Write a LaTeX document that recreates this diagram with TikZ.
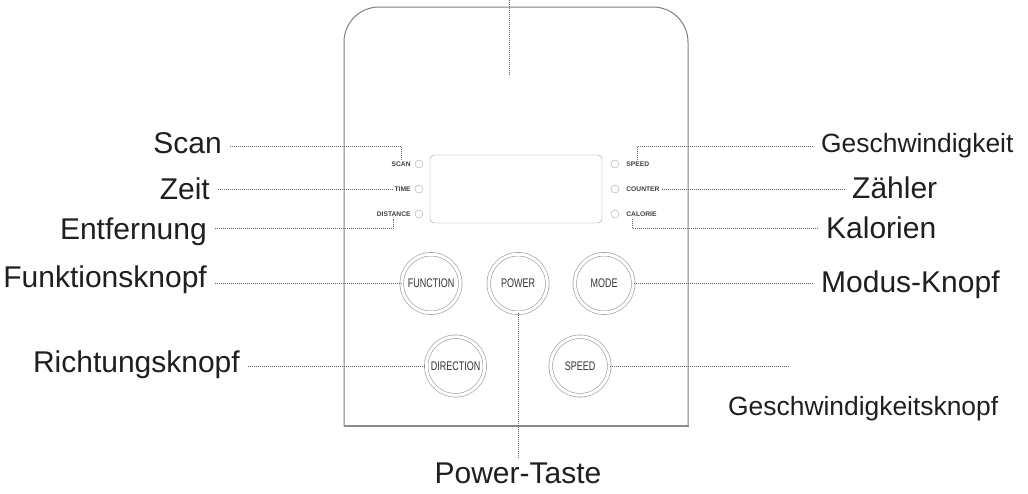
\documentclass[tikz,border=0pt]{standalone}
\usepackage{fontspec}
\setmainfont{Liberation Sans}
\newfontfamily\narrowfont[FakeStretch=0.72]{Liberation Sans}
\usetikzlibrary{positioning}

\begin{document}
\begin{tikzpicture}[x=1pt, y=-1pt,
  lbl/.style={font=\fontsize{30}{36}\selectfont, text=black!88, inner xsep=8pt, inner ysep=4pt},
  smlbl/.style={lbl, font=\fontsize{26.4}{32}\selectfont},
  tag/.style={font=\bfseries\fontsize{6.7}{8}\selectfont, text=black!75, inner sep=2pt},
  led/.style={circle, draw=black!35, minimum size=8pt, inner sep=0pt},
  display/.style={rectangle, draw=black!40, rounded corners=4pt, minimum width=172pt, minimum height=68pt},
  knob/.style={circle, draw=black!40, line width=0.6pt, double=white, double distance=3pt, minimum size=58.5pt, inner sep=0pt, font=\narrowfont\fontsize{12.5}{14}\selectfont, text=black!80},
  lead/.style={draw=black!60, line width=0.6pt, dash pattern=on 1pt off 1pt}]
		\useasboundingbox (0,0) rectangle (1028,493);
		\draw[draw=black!50, line width=1pt, rounded corners=35pt] (344,426) -- (344,7) -- (688,7) -- (688,426);
		\draw[draw=black!45, line width=2pt] (343.5,426) -- (688.5,426);
		\node[display] (display) at (516,189) {};
		\node[led] (lscan) at (419,164) {};
		\node[led] (ltime) at (419,189) {};
		\node[led] (ldist) at (419,214) {};
		\node[led] (lspeed) at (615,164) {};
		\node[led] (lcount) at (615,189) {};
		\node[led] (lcal) at (615,214) {};
		\node[tag] (tscan) [left=2pt of lscan] {SCAN};
		\node[tag] (ttime) [left=2pt of ltime] {TIME};
		\node[tag] (tdist) [left=2pt of ldist] {DISTANCE};
		\node[tag] (tspeed) [right=5pt of lspeed] {SPEED};
		\node[tag] (tcount) [right=5pt of lcount] {COUNTER};
		\node[tag] (tcal) [right=5pt of lcal] {CALORIE};
		\node[knob] (function) at (431,283.5) {FUNCTION};
		\node[knob] (power) at (518,283.5) {POWER};
		\node[knob] (mode) at (604,283.5) {MODE};
		\node[knob] (direction) at (455.5,366) {DIRECTION};
		\node[knob] (speed) at (580,366) {SPEED};
		\node[lbl, anchor=base east] (scan) at (230,153) {Scan};
		\node[lbl, anchor=base east] (zeit) at (218,199) {Zeit};
		\node[lbl, anchor=base east] (entfernung) at (215,239) {Entfernung};
		\node[lbl, anchor=base east] (funktion) at (215,287) {Funktionsknopf};
		\node[lbl, anchor=base east] (richtung) at (248,372) {Richtungsknopf};
		\node[smlbl, anchor=base west] (geschw) at (813,152) {Geschwindigkeit};
		\node[lbl, anchor=base west] (zaehler) at (844,198) {Zähler};
		\node[lbl, anchor=base west] (kalorien) at (818,238) {Kalorien};
		\node[lbl, anchor=base west] (modus) at (813,292) {Modus-Knopf};
		\node[smlbl, anchor=base west] (geschwknopf) at (720,415) {Geschwindigkeitsknopf};
		\node[lbl, anchor=base] (powertaste) at (518,483) {Power-Taste};
		\coordinate (toptop) at (509,0);
		\coordinate (topend) at (509,76);
		\coordinate (spdend) at (788,366);
		\draw[lead] (toptop) -- (topend);
		\draw[lead] (scan.east |- 0,146) -| (tscan.north);
		\draw[lead] (zeit.east |- ttime.west) -- (ttime.west);
		\draw[lead] (entfernung.east |- 0,228) -| (tdist.south);
		\draw[lead] (funktion.east |- function.west) -- (function.west);
		\draw[lead] (richtung.east |- direction.west) -- (direction.west);
		\draw[lead] (geschw.west |- 0,146) -| (tspeed.north);
		\draw[lead] (tcount.east) -- (tcount.east -| zaehler.west);
		\draw[lead] (kalorien.west |- 0,228) -| ([xshift=-9pt]tcal.south);
		\draw[lead] (mode.east) -- (mode.east -| modus.west);
		\draw[lead] (speed.east) -- (spdend);
		\draw[lead] (power.south) -- (powertaste.north);
	\end{tikzpicture}
\end{document}
